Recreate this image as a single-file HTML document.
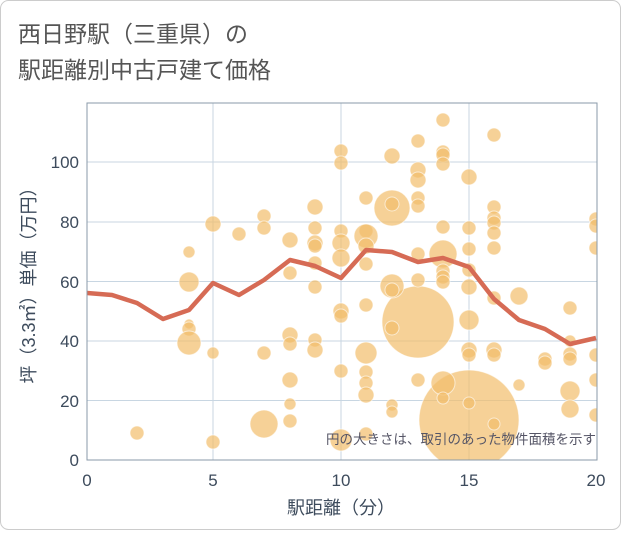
<!DOCTYPE html>
<html><head><meta charset="utf-8"><style>
body{margin:0;background:#fff;}
svg text{font-family:"Liberation Sans","Noto Sans CJK JP",sans-serif;}
</style></head><body>
<svg width="621" height="530" xmlns="http://www.w3.org/2000/svg">
<rect x="0.5" y="0.5" width="620" height="529" rx="8" fill="#fff" stroke="#ccc"/>
<text x="18" y="42" font-size="23" fill="#555">西日野駅（三重県）の</text>
<text x="18" y="78" font-size="23" fill="#555">駅距離別中古戸建て価格</text>
<defs><clipPath id="c"><rect x="87" y="103" width="510" height="357"/></clipPath></defs>
<g stroke="#c8d6e2" stroke-width="1">
<line x1="213" y1="103" x2="213" y2="460"/><line x1="341" y1="103" x2="341" y2="460"/><line x1="469" y1="103" x2="469" y2="460"/>
<line x1="87" y1="400.5" x2="597" y2="400.5"/><line x1="87" y1="341" x2="597" y2="341"/><line x1="87" y1="281.5" x2="597" y2="281.5"/><line x1="87" y1="222" x2="597" y2="222"/><line x1="87" y1="162" x2="597" y2="162"/>
</g>
<g clip-path="url(#c)" fill="#f2bd6b" fill-opacity="0.7" stroke="#fff" stroke-opacity="0.6" stroke-width="1">
<circle cx="418" cy="322" r="36"/><circle cx="469" cy="420" r="50"/>
<circle cx="137" cy="433" r="7"/>
<circle cx="189" cy="252" r="6"/><circle cx="189" cy="282" r="10"/><circle cx="189" cy="324" r="5"/><circle cx="189" cy="329" r="7"/><circle cx="189" cy="343" r="12"/>
<circle cx="213" cy="224" r="8"/><circle cx="213" cy="353" r="6"/><circle cx="213" cy="442" r="7"/>
<circle cx="239" cy="234" r="7"/>
<circle cx="264" cy="216" r="7"/><circle cx="264" cy="228" r="7"/><circle cx="264" cy="353" r="7"/><circle cx="264" cy="424" r="14"/>
<circle cx="290" cy="240" r="8"/><circle cx="290" cy="273" r="7"/><circle cx="290" cy="335" r="8"/><circle cx="290" cy="344" r="7"/><circle cx="290" cy="380" r="8"/><circle cx="290" cy="404" r="6"/><circle cx="290" cy="421" r="7"/>
<circle cx="315" cy="207" r="8"/><circle cx="315" cy="228" r="7"/><circle cx="315" cy="243" r="8"/><circle cx="315" cy="246" r="7"/><circle cx="315" cy="263" r="7"/><circle cx="315" cy="287" r="7"/><circle cx="315" cy="340" r="7"/><circle cx="315" cy="350" r="8"/>
<circle cx="341" cy="151" r="7"/><circle cx="341" cy="163" r="7"/><circle cx="341" cy="231" r="7"/><circle cx="341" cy="243" r="9"/><circle cx="341" cy="258" r="9"/><circle cx="341" cy="311" r="8"/><circle cx="341" cy="316" r="7"/><circle cx="341" cy="371" r="7"/><circle cx="341" cy="440" r="11"/>
<circle cx="366" cy="198" r="7"/><circle cx="366" cy="231" r="7"/><circle cx="366" cy="236" r="12"/><circle cx="366" cy="246" r="8"/><circle cx="366" cy="264" r="7"/><circle cx="366" cy="305" r="7"/><circle cx="366" cy="353" r="11"/><circle cx="366" cy="372" r="7"/><circle cx="366" cy="383" r="7"/><circle cx="366" cy="395" r="8"/><circle cx="366" cy="434" r="7"/>
<circle cx="392" cy="156" r="8"/><circle cx="392" cy="208" r="18"/><circle cx="392" cy="204" r="7"/><circle cx="392" cy="286" r="12"/><circle cx="392" cy="290" r="7"/><circle cx="392" cy="328" r="7"/><circle cx="392" cy="405" r="6"/><circle cx="392" cy="412" r="6"/>
<circle cx="418" cy="141" r="7"/><circle cx="418" cy="170" r="8"/><circle cx="418" cy="180" r="8"/><circle cx="418" cy="198" r="7"/><circle cx="418" cy="206" r="7"/><circle cx="418" cy="254" r="7"/><circle cx="418" cy="280" r="7"/><circle cx="418" cy="380" r="7"/>
<circle cx="443" cy="120" r="7"/><circle cx="443" cy="152" r="7"/><circle cx="443" cy="155" r="7"/><circle cx="443" cy="164" r="7"/><circle cx="443" cy="227" r="7"/><circle cx="443" cy="254" r="14"/><circle cx="443" cy="271" r="7"/><circle cx="443" cy="277" r="7"/><circle cx="443" cy="282" r="7"/><circle cx="443" cy="383" r="12"/><circle cx="443" cy="398" r="6"/>
<circle cx="469" cy="177" r="8"/><circle cx="469" cy="228" r="7"/><circle cx="469" cy="249" r="7"/><circle cx="469" cy="270" r="7"/><circle cx="469" cy="287" r="8"/><circle cx="469" cy="320" r="10"/><circle cx="469" cy="350" r="8"/><circle cx="469" cy="355" r="7"/><circle cx="469" cy="403" r="6"/>
<circle cx="494" cy="135" r="7"/><circle cx="494" cy="207" r="7"/><circle cx="494" cy="218" r="7"/><circle cx="494" cy="223" r="7"/><circle cx="494" cy="233" r="7"/><circle cx="494" cy="248" r="7"/><circle cx="494" cy="298" r="7"/><circle cx="494" cy="350" r="8"/><circle cx="494" cy="355" r="7"/><circle cx="494" cy="424" r="6"/>
<circle cx="519" cy="296" r="9"/><circle cx="519" cy="385" r="6"/>
<circle cx="545" cy="359" r="7"/><circle cx="545" cy="363" r="7"/>
<circle cx="570" cy="308" r="7"/><circle cx="570" cy="341" r="6"/><circle cx="570" cy="354" r="7"/><circle cx="570" cy="359" r="7"/><circle cx="570" cy="391" r="10"/><circle cx="570" cy="409" r="9"/>
<circle cx="596" cy="219" r="7"/><circle cx="596" cy="226" r="7"/><circle cx="596" cy="248" r="7"/><circle cx="596" cy="355" r="7"/><circle cx="596" cy="380" r="7"/><circle cx="596" cy="415" r="7"/>
</g>
<polyline clip-path="url(#c)" fill="none" stroke="#d66b55" stroke-width="4.5" stroke-linejoin="round" points="87,293 112,295 137,303 163,319 189,310 213,283 239,295 264,280 290,260 315,266 341,278 366,250 392,252 418,262 443,258 469,267 494,299 519,320 545,329 570,344 596,338"/>
<rect x="87" y="103" width="510" height="357" fill="none" stroke="#8a9aa8" stroke-width="1"/>
<text x="596" y="444" font-size="13.5" fill="#556" text-anchor="end">円の大きさは、取引のあった物件面積を示す</text>
<g font-size="17" fill="#3d4b5c" text-anchor="middle">
<text x="87" y="486">0</text><text x="213" y="486">5</text><text x="341" y="486">10</text><text x="469" y="486">15</text><text x="596" y="486">20</text>
</g>
<g font-size="17" fill="#3d4b5c" text-anchor="end">
<text x="79" y="466">0</text><text x="79" y="407">20</text><text x="79" y="347">40</text><text x="79" y="288">60</text><text x="79" y="228">80</text><text x="79" y="168">100</text>
</g>
<text x="341" y="514" font-size="18" fill="#3d4b5c" text-anchor="middle">駅距離（分）</text>
<text transform="translate(35,281) rotate(-90)" font-size="18" fill="#3d4b5c" text-anchor="middle">坪（3.3㎡）単価（万円）</text>
</svg>
</body></html>
